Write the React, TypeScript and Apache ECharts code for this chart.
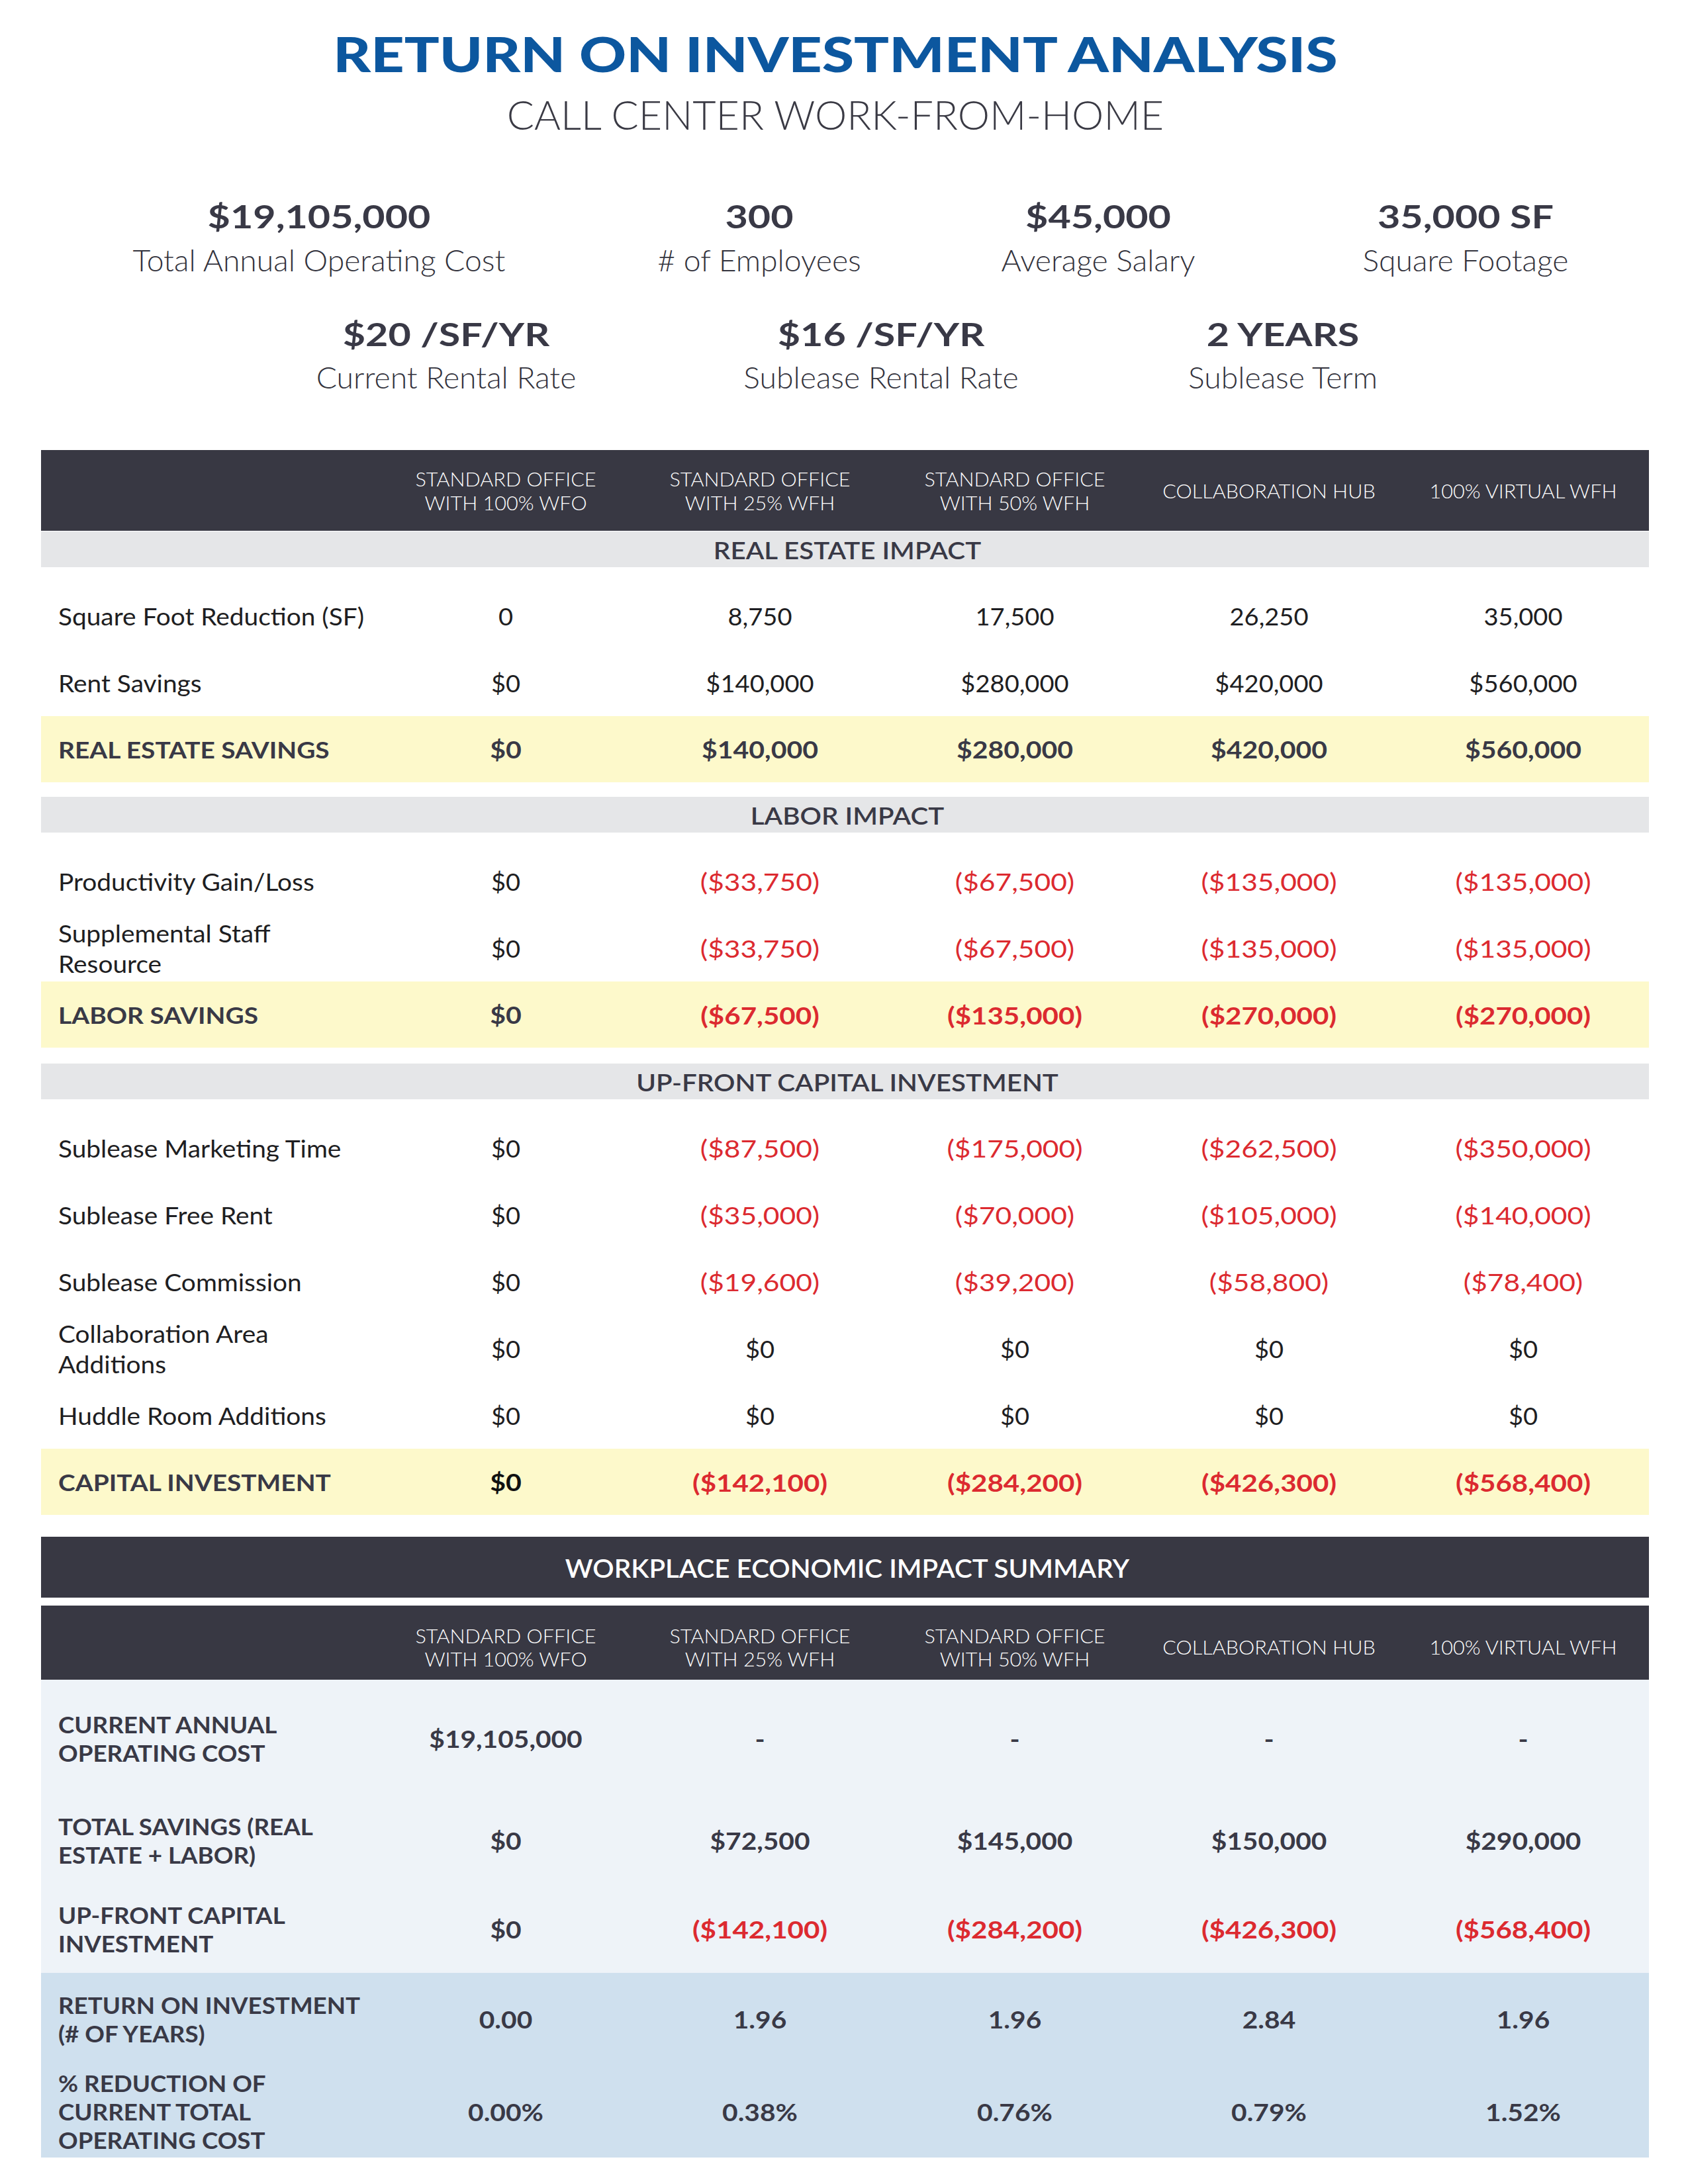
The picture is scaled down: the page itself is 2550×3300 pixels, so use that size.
import React, { useEffect, useRef } from 'react';
import * as echarts from 'echarts';

// ---------- DATA ----------
const TITLE = 'RETURN ON INVESTMENT ANALYSIS';
const SUBTITLE = 'CALL CENTER WORK-FROM-HOME';

const kpiValuesRow1 = ['$19,105,000', '300', '$45,000', '35,000 SF'];
const kpiLabelsRow1 = ['Total Annual Operating Cost', '# of Employees', 'Average Salary', 'Square Footage'];
const kpiValuesRow2 = ['$20 /SF/YR', '$16 /SF/YR', '2 YEARS'];
const kpiLabelsRow2 = ['Current Rental Rate', 'Sublease Rental Rate', 'Sublease Term'];

const scenarios = [
  'STANDARD OFFICE\nWITH 100% WFO',
  'STANDARD OFFICE\nWITH 25% WFH',
  'STANDARD OFFICE\nWITH 50% WFH',
  'COLLABORATION HUB',
  '100% VIRTUAL WFH',
];

const sectionNames = ['REAL ESTATE IMPACT', 'LABOR IMPACT', 'UP-FRONT CAPITAL INVESTMENT'];

const squareFootReduction = [0, 8750, 17500, 26250, 35000];
const rentSavings = [0, 140000, 280000, 420000, 560000];
const realEstateSavings = [0, 140000, 280000, 420000, 560000];

const productivityGainLoss = [0, -33750, -67500, -135000, -135000];
const supplementalStaffResource = [0, -33750, -67500, -135000, -135000];
const laborSavings = [0, -67500, -135000, -270000, -270000];

const subleaseMarketingTime = [0, -87500, -175000, -262500, -350000];
const subleaseFreeRent = [0, -35000, -70000, -105000, -140000];
const subleaseCommission = [0, -19600, -39200, -58800, -78400];
const collaborationAreaAdditions = [0, 0, 0, 0, 0];
const huddleRoomAdditions = [0, 0, 0, 0, 0];
const capitalInvestment = [0, -142100, -284200, -426300, -568400];

const summaryTitle = 'WORKPLACE ECONOMIC IMPACT SUMMARY';
const currentAnnualOperatingCost: (number | null)[] = [19105000, null, null, null, null];
const totalSavings = [0, 72500, 145000, 150000, 290000];
const upFrontCapitalInvestment = [0, -142100, -284200, -426300, -568400];
const roiYears = [0.0, 1.96, 1.96, 2.84, 1.96];
const pctReduction = [0.0, 0.38, 0.76, 0.79, 1.52];

// ---------- FORMATTERS ----------
const fmtNum = (v: number) => Math.abs(v).toLocaleString('en-US');
const fmtMoney = (v: number | null) => (v == null ? '-' : v < 0 ? `($${fmtNum(v)})` : `$${fmtNum(v)}`);
const fmtPlain = (v: number) => fmtNum(v);
const fmtFixed = (v: number) => v.toFixed(2);
const fmtPct = (v: number) => v.toFixed(2) + '%';

// ---------- STYLE / LAYOUT ----------
const FONT = 'Lato, "Open Sans", sans-serif';
const BLUE = '#0c579f';
const DARK = '#383843';
const TXT = '#1e1e22';
const SLATE = '#393946';
const RED = '#dc2a30';
const GRAY_BAND = '#e5e6e8';
const YELLOW = '#fdf9cb';
const LIGHT_BLUE = '#eef3f8';
const MID_BLUE = '#cfe0ee';

const X0 = 62;
const X1 = 2491;
const LABEL_X = 88;
const COL_X = [764, 1148, 1533, 1917, 2301];
const CENTER_X = 1280;

type Row = { label: string; values: (number | null)[]; fmt: (v: any) => string; kind: 'normal' | 'total' };
type Section = { name: string; rows: Row[] };

const sections: Section[] = [
  {
    name: sectionNames[0],
    rows: [
      { label: 'Square Foot Reduction (SF)', values: squareFootReduction, fmt: fmtPlain, kind: 'normal' },
      { label: 'Rent Savings', values: rentSavings, fmt: fmtMoney, kind: 'normal' },
      { label: 'REAL ESTATE SAVINGS', values: realEstateSavings, fmt: fmtMoney, kind: 'total' },
    ],
  },
  {
    name: sectionNames[1],
    rows: [
      { label: 'Productivity Gain/Loss', values: productivityGainLoss, fmt: fmtMoney, kind: 'normal' },
      { label: 'Supplemental Staff\nResource', values: supplementalStaffResource, fmt: fmtMoney, kind: 'normal' },
      { label: 'LABOR SAVINGS', values: laborSavings, fmt: fmtMoney, kind: 'total' },
    ],
  },
  {
    name: sectionNames[2],
    rows: [
      { label: 'Sublease Marketing Time', values: subleaseMarketingTime, fmt: fmtMoney, kind: 'normal' },
      { label: 'Sublease Free Rent', values: subleaseFreeRent, fmt: fmtMoney, kind: 'normal' },
      { label: 'Sublease Commission', values: subleaseCommission, fmt: fmtMoney, kind: 'normal' },
      { label: 'Collaboration Area\nAdditions', values: collaborationAreaAdditions, fmt: fmtMoney, kind: 'normal' },
      { label: 'Huddle Room Additions', values: huddleRoomAdditions, fmt: fmtMoney, kind: 'normal' },
      { label: 'CAPITAL INVESTMENT', values: capitalInvestment, fmt: fmtMoney, kind: 'total' },
    ],
  },
];

const summaryRows = [
  { label: 'CURRENT ANNUAL\nOPERATING COST', values: currentAnnualOperatingCost, fmt: fmtMoney, y: 2627 },
  { label: 'TOTAL SAVINGS (REAL\nESTATE + LABOR)', values: totalSavings, fmt: fmtMoney, y: 2781 },
  { label: 'UP-FRONT CAPITAL\nINVESTMENT', values: upFrontCapitalInvestment, fmt: fmtMoney, y: 2915 },
  { label: 'RETURN ON INVESTMENT\n(# OF YEARS)', values: roiYears, fmt: fmtFixed, y: 3051 },
  { label: '% REDUCTION OF\nCURRENT TOTAL\nOPERATING COST', values: pctReduction, fmt: fmtPct, y: 3191 },
];

function txt(text: string, x: number, y: number, o: any = {}) {
  const align = o.align || 'center';
  return {
    type: 'text',
    x,
    y,
    z: 10,
    scaleX: o.scaleX || 1,
    style: {
      text,
      fill: o.fill || TXT,
      fontSize: o.fontSize || 36,
      fontWeight: o.fontWeight || 400,
      fontFamily: o.fontFamily || FONT,
      align,
      textAlign: align,
      verticalAlign: 'middle',
      textVerticalAlign: 'middle',
      lineHeight: o.lineHeight,
    },
  };
}

function rect(x: number, y: number, w: number, h: number, fill: string) {
  return { type: 'rect', z: 0, shape: { x, y, width: w, height: h }, style: { fill } };
}

function buildElements() {
  const els: any[] = [];
  // Title
  els.push(txt(TITLE, 1262, 81, { fill: BLUE, fontSize: 72, fontWeight: 900, scaleX: 1.22 }));
  els.push(txt(SUBTITLE, 1262, 172, { fill: '#3a3a44', fontSize: 61, fontWeight: 300, scaleX: 1.0 }));

  // KPIs
  const kpi1X = [482, 1147, 1659, 2214];
  kpiValuesRow1.forEach((v, i) => {
    els.push(txt(v, kpi1X[i], 327, { fill: SLATE, fontSize: 47, fontWeight: 700, scaleX: 1.26 }));
    els.push(txt(kpiLabelsRow1[i], kpi1X[i], 393, { fill: '#33333d', fontSize: 45, fontWeight: 300, scaleX: 1.03 }));
  });
  const kpi2X = [674, 1331, 1938];
  kpiValuesRow2.forEach((v, i) => {
    els.push(txt(v, kpi2X[i], 505, { fill: SLATE, fontSize: 47, fontWeight: 700, scaleX: 1.26 }));
    els.push(txt(kpiLabelsRow2[i], kpi2X[i], 570, { fill: '#33333d', fontSize: 45, fontWeight: 300, scaleX: 1.03 }));
  });

  // Table header
  const W = X1 - X0;
  els.push(rect(X0, 680, W, 122, DARK));
  scenarios.forEach((s, i) => {
    els.push(txt(s, COL_X[i], 742, { fill: '#ffffff', fontSize: 29, fontWeight: 300, lineHeight: 36, scaleX: 1.055 }));
  });

  // Sections
  const ROW_H = 101;
  const sectionTops = [803, 1204, 1607];
  sections.forEach((sec, si) => {
    const top = sectionTops[si];
    const bandH = 54;
    els.push(rect(X0, top, W, bandH, GRAY_BAND));
    els.push(txt(sec.name, CENTER_X, top + bandH / 2 + 1, { fill: SLATE, fontSize: 37, fontWeight: 600, scaleX: 1.09 }));
    let y = top + bandH + 23;
    sec.rows.forEach((row) => {
      const cy = y + ROW_H / 2;
      if (row.kind === 'total') {
        els.push(rect(X0, y, W, 100, YELLOW));
        els.push(txt(row.label, LABEL_X, cy, { align: 'left', fill: SLATE, fontSize: 35, fontWeight: 700, scaleX: 1.11 }));
      } else {
        els.push(txt(row.label, LABEL_X, cy, { align: 'left', fill: TXT, fontSize: 37, fontWeight: 400, lineHeight: 46, scaleX: 1.05 }));
      }
      row.values.forEach((v, ci) => {
        const neg = v != null && v < 0;
        const bold = row.kind === 'total';
        els.push(
          txt(row.fmt(v), COL_X[ci], cy, {
            fill: neg ? RED : bold ? (ci === 0 && si === 2 ? '#111111' : SLATE) : TXT,
            fontSize: bold ? 36 : 37,
            fontWeight: bold ? 700 : 400,
            scaleX: bold ? (neg ? 1.17 : 1.14) : neg ? 1.15 : 1.03,
          })
        );
      });
      y += ROW_H;
    });
  });

  // Summary
  els.push(rect(X0, 2322, W, 92, DARK));
  els.push(txt(summaryTitle, CENTER_X, 2369, { fill: '#ffffff', fontSize: 38, fontWeight: 600, scaleX: 1.06 }));
  els.push(rect(X0, 2426, W, 112, DARK));
  scenarios.forEach((s, i) => {
    els.push(txt(s, COL_X[i], 2489, { fill: '#ffffff', fontSize: 29, fontWeight: 300, lineHeight: 35, scaleX: 1.055 }));
  });
  els.push(rect(X0, 2538, W, 443, LIGHT_BLUE));
  els.push(rect(X0, 2981, W, 279, MID_BLUE));
  summaryRows.forEach((row) => {
    els.push(txt(row.label, LABEL_X, row.y, { align: 'left', fill: SLATE, fontSize: 35, fontWeight: 700, lineHeight: 43, scaleX: 1.05 }));
    row.values.forEach((v: any, ci: number) => {
      const neg = v != null && v < 0;
      els.push(
        txt(row.fmt(v), COL_X[ci], row.y, {
          fill: neg ? RED : SLATE,
          fontSize: 37,
          fontWeight: 700,
          scaleX: neg ? 1.14 : 1.1,
        })
      );
    });
  });
  return els;
}

export default function App() {
  const ref = useRef<HTMLDivElement>(null);
  useEffect(() => {
    if (!ref.current) return;
    const chart = echarts.init(ref.current, undefined, { renderer: 'svg' });
    chart.setOption({
      animation: false,
      backgroundColor: '#ffffff',
      graphic: { elements: buildElements() },
    });
    return () => chart.dispose();
  }, []);
  return (
    <div
      ref={ref}
      style={{ position: 'absolute', left: 0, top: 0, width: 2550, height: 3300, background: '#fff' }}
    />
  );
}
